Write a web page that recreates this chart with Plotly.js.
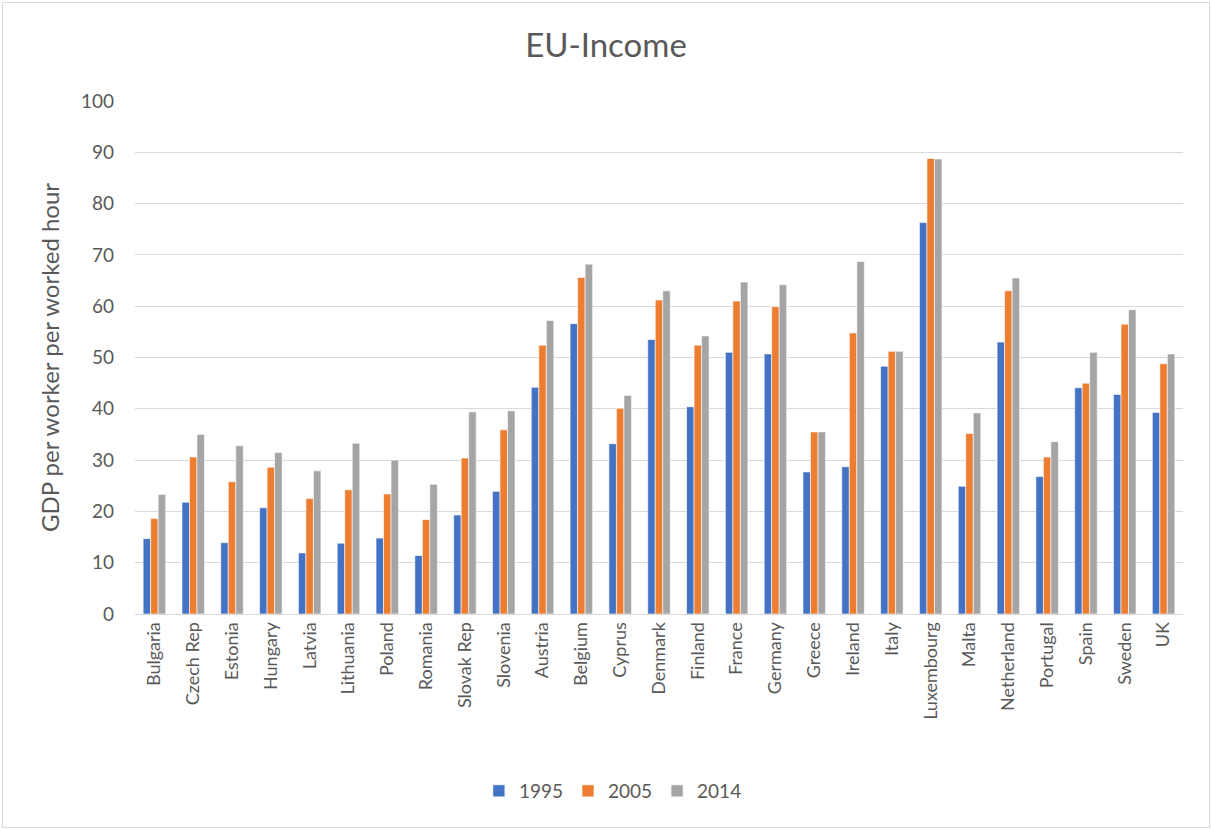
<!DOCTYPE html>
<html><head><meta charset="utf-8">
<script src="https://cdn.plot.ly/plotly-3.0.1.min.js"></script>
<style>body{margin:0;padding:0;background:#fff}#wrap{position:relative;width:1212px;height:830px}#border{position:absolute;left:2px;top:2px;width:1206px;height:824px;border:1px solid #D9D9D9;pointer-events:none}</style>
</head><body><div id="wrap"><div id="chart" style="width:1212px;height:830px"></div><div id="border"></div></div>
<script>
const countries = ["Bulgaria","Czech Rep","Estonia","Hungary","Latvia","Lithuania","Poland","Romania","Slovak Rep","Slovenia","Austria","Belgium","Cyprus","Denmark","Finland","France","Germany","Greece","Ireland","Italy","Luxembourg","Malta","Netherland","Portugal","Spain","Sweden","UK"];
const y1995 = [14.7,21.8,13.9,20.7,11.9,13.8,14.8,11.4,19.3,23.9,44.2,56.6,33.2,53.5,40.4,51.0,50.7,27.7,28.7,48.3,76.3,24.9,53.0,26.8,44.1,42.8,39.3];
const y2005 = [18.6,30.6,25.8,28.6,22.5,24.2,23.4,18.4,30.4,35.9,52.4,65.6,40.1,61.2,52.4,61.0,59.9,35.5,54.8,51.2,88.8,35.2,63.0,30.6,45.0,56.5,48.8];
const y2014 = [23.3,35.0,32.8,31.5,27.9,33.3,30.0,25.3,39.4,39.6,57.2,68.2,42.6,63.0,54.2,64.7,64.2,35.5,68.7,51.2,88.7,39.2,65.5,33.6,51.0,59.3,50.7];
const seriesNames = ["1995","2005","2014"];
const colors = ["#4472C4","#ED7D31","#A5A5A5"];
const series = [y1995,y2005,y2014];
const traces = series.map((v,i)=>({type:"bar",name:seriesNames[i],x:countries,y:v,marker:{color:colors[i],line:{color:"#FFFFFF",width:0.6}},hoverinfo:"x+y"}));
const font = "Lato, 'Open Sans', sans-serif";
const layout = {
  width:1212,height:830,
  paper_bgcolor:"#FFFFFF",plot_bgcolor:"#FFFFFF",
  margin:{l:135,r:29,t:101,b:216},
  font:{family:font,color:"#595959"},
  title:{text:"EU-Income",font:{size:33,color:"#595959",family:font},x:0.5,xanchor:"center",y:0.945,yanchor:"middle"},
  barmode:"group",bargap:0.42,bargroupgap:0,
  xaxis:{type:"category",tickangle:-90,tickfont:{size:18,color:"#595959"},showgrid:false,showline:true,linecolor:"#D9D9D9",linewidth:1,ticks:"",automargin:false},
  yaxis:{range:[0,100],dtick:10,tickfont:{size:19,color:"#595959"},showgrid:true,gridcolor:"#D9D9D9",gridwidth:1,zeroline:false,showline:false,ticks:"",ticklen:0,ticklabelstandoff:20,
    title:{text:"GDP per worker per worked hour",font:{size:24,color:"#595959"},standoff:14},automargin:false},
  legend:{orientation:"h",x:0.456,xanchor:"center",y:-0.345,yanchor:"middle",font:{size:19,color:"#595959"},traceorder:"normal"},
  showlegend:true
};
Plotly.newPlot("chart",traces,layout,{displayModeBar:false,staticPlot:true});
</script></body></html>
